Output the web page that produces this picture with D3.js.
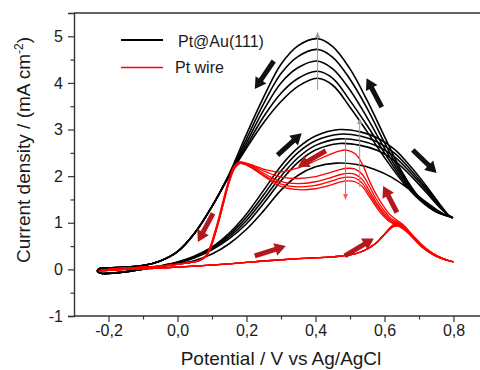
<!DOCTYPE html>
<html>
<head>
<meta charset="utf-8">
<script src="https://cdn.jsdelivr.net/npm/d3@7"></script>
<style>
  body { margin: 0; background: #fff; }
  svg { display: block; }
  text { font-family: "Liberation Sans", Arial, sans-serif; fill: #1a1a1a; }
</style>
</head>
<body>
<svg id="chart" width="480" height="370"></svg>
<script>
// ---- axis settings ----
const xTicks = [-0.2, 0.0, 0.2, 0.4, 0.6, 0.8];
const xMinorTicks = [-0.1, 0.1, 0.3, 0.5, 0.7];
const yTicks = [-1, 0, 1, 2, 3, 4, 5];
const yMinorTicks = [-0.5, 0.5, 1.5, 2.5, 3.5, 4.5];
const xTitle = "Potential / V vs Ag/AgCl";
const yTitle = "Current density / (mA cm";
const yTitleSup = "-2";

// ---- legend ----
const seriesNames = ["Pt@Au(111)", "Pt wire"];
const seriesColors = ["#000000", "#ff0000"];

// ---- Pt@Au(111): five consecutive cycles, [potential V, current mA cm-2] ----
const auCycle1 = [
  [-0.233,-0.04],[-0.222,-0.085],[-0.18,-0.075],[-0.13,-0.03],[-0.08,0.03],[-0.04,0.07],[0.0,0.11],[0.05,0.19],
  [0.1,0.33],[0.15,0.55],[0.2,0.86],[0.25,1.26],[0.3,1.7],[0.35,2.02],[0.4,2.2],[0.46,2.28],[0.52,2.25],
  [0.57,2.15],[0.62,1.98],[0.67,1.73],[0.72,1.45],[0.76,1.24],[0.785,1.14],[0.797,1.11],
  [0.79,1.13],[0.75,1.23],[0.7,1.5],[0.65,1.9],[0.6,2.4],[0.55,2.95],[0.5,3.48],[0.45,3.95],[0.405,4.1],
  [0.35,3.93],[0.3,3.6],[0.25,3.15],[0.2,2.6],[0.15,2.0],[0.1,1.35],[0.05,0.78],[0.0,0.38],[-0.05,0.18],
  [-0.1,0.08],[-0.15,0.05],[-0.2,0.03],[-0.228,0.01],[-0.233,-0.04]
];
const auCycle2 = [
  [-0.233,-0.04],[-0.222,-0.085],[-0.18,-0.075],[-0.13,-0.03],[-0.08,0.03],[-0.04,0.08],[0.0,0.13],[0.05,0.25],
  [0.1,0.42],[0.15,0.66],[0.2,0.98],[0.25,1.42],[0.3,1.9],[0.35,2.3],[0.4,2.56],[0.47,2.7],[0.53,2.66],
  [0.58,2.55],[0.63,2.33],[0.68,1.98],[0.72,1.66],[0.76,1.33],[0.785,1.16],[0.797,1.11],
  [0.79,1.13],[0.75,1.24],[0.7,1.52],[0.65,1.95],[0.6,2.5],[0.55,3.08],[0.5,3.62],[0.45,4.1],[0.405,4.25],
  [0.35,4.1],[0.3,3.78],[0.25,3.28],[0.2,2.65],[0.15,2.01],[0.1,1.35],[0.05,0.78],[0.0,0.38],[-0.05,0.18],
  [-0.1,0.08],[-0.15,0.05],[-0.2,0.03],[-0.228,0.01],[-0.233,-0.04]
];
const auCycle3 = [
  [-0.233,-0.04],[-0.222,-0.085],[-0.18,-0.075],[-0.13,-0.03],[-0.08,0.03],[-0.04,0.08],[0.0,0.14],[0.05,0.26],
  [0.1,0.44],[0.15,0.7],[0.2,1.05],[0.25,1.51],[0.3,2.0],[0.35,2.4],[0.4,2.66],[0.47,2.8],[0.53,2.76],
  [0.58,2.64],[0.63,2.41],[0.68,2.04],[0.72,1.71],[0.76,1.35],[0.785,1.16],[0.797,1.11],
  [0.79,1.13],[0.75,1.24],[0.7,1.53],[0.65,2.0],[0.6,2.6],[0.55,3.25],[0.5,3.85],[0.45,4.3],[0.405,4.47],
  [0.35,4.33],[0.3,4.0],[0.25,3.42],[0.2,2.72],[0.15,2.02],[0.1,1.35],[0.05,0.78],[0.0,0.38],[-0.05,0.18],
  [-0.1,0.08],[-0.15,0.05],[-0.2,0.03],[-0.228,0.01],[-0.233,-0.04]
];
const auCycle4 = [
  [-0.233,-0.04],[-0.222,-0.085],[-0.18,-0.075],[-0.13,-0.03],[-0.08,0.03],[-0.04,0.09],[0.0,0.15],[0.05,0.27],
  [0.1,0.46],[0.15,0.74],[0.2,1.12],[0.25,1.6],[0.3,2.11],[0.35,2.51],[0.4,2.76],[0.47,2.9],[0.53,2.86],
  [0.58,2.73],[0.63,2.49],[0.68,2.1],[0.72,1.75],[0.76,1.38],[0.785,1.16],[0.797,1.11],
  [0.79,1.13],[0.75,1.25],[0.7,1.54],[0.65,2.05],[0.6,2.72],[0.55,3.45],[0.5,4.08],[0.45,4.55],[0.405,4.72],
  [0.35,4.57],[0.3,4.2],[0.25,3.56],[0.2,2.8],[0.15,2.03],[0.1,1.35],[0.05,0.78],[0.0,0.38],[-0.05,0.18],
  [-0.1,0.08],[-0.15,0.05],[-0.2,0.03],[-0.228,0.01],[-0.233,-0.04]
];
const auCycle5 = [
  [-0.233,-0.04],[-0.222,-0.085],[-0.18,-0.075],[-0.13,-0.03],[-0.08,0.03],[-0.04,0.09],[0.0,0.16],[0.05,0.29],
  [0.1,0.48],[0.15,0.78],[0.2,1.19],[0.25,1.7],[0.3,2.22],[0.35,2.61],[0.4,2.86],[0.47,3.0],[0.53,2.95],
  [0.58,2.82],[0.63,2.57],[0.68,2.17],[0.72,1.8],[0.76,1.4],[0.785,1.17],[0.797,1.11],
  [0.79,1.13],[0.75,1.25],[0.7,1.55],[0.65,2.1],[0.6,2.85],[0.55,3.62],[0.5,4.3],[0.45,4.78],[0.405,4.95],
  [0.35,4.8],[0.3,4.4],[0.25,3.7],[0.2,2.9],[0.15,2.05],[0.1,1.35],[0.05,0.78],[0.0,0.38],[-0.05,0.18],
  [-0.1,0.08],[-0.15,0.05],[-0.2,0.03],[-0.228,0.01],[-0.233,-0.04]
];

// ---- Pt wire: five consecutive cycles ----
const ptCycle1 = [
  [-0.228,-0.03],[-0.2,-0.02],[-0.15,0.0],[-0.05,0.03],[0.05,0.07],[0.15,0.12],[0.25,0.18],[0.35,0.23],
  [0.45,0.27],[0.5,0.31],[0.54,0.4],[0.575,0.56],[0.605,0.8],[0.625,0.96],[0.638,1.02],[0.655,0.95],
  [0.68,0.73],[0.71,0.48],[0.745,0.3],[0.775,0.21],[0.8,0.16],
  [0.79,0.18],[0.77,0.23],[0.74,0.34],[0.71,0.52],[0.68,0.75],[0.655,0.95],[0.635,1.06],[0.615,1.18],
  [0.595,1.38],[0.575,1.62],[0.555,1.92],[0.535,2.27],[0.515,2.48],[0.49,2.56],[0.465,2.53],[0.44,2.46],
  [0.4,2.33],[0.35,2.18],[0.3,2.09],[0.26,2.13],[0.22,2.23],[0.195,2.29],[0.178,2.3],[0.163,2.2],
  [0.148,1.9],[0.133,1.5],[0.12,1.12],[0.107,0.78],[0.095,0.5],[0.082,0.3],[0.062,0.19],[0.02,0.13],
  [-0.05,0.07],[-0.15,0.03],[-0.2,0.0],[-0.228,-0.03]
];
const ptCycle2 = [
  [-0.228,-0.03],[-0.2,-0.02],[-0.15,0.0],[-0.05,0.03],[0.05,0.07],[0.15,0.12],[0.25,0.18],[0.35,0.23],
  [0.45,0.27],[0.5,0.31],[0.54,0.4],[0.575,0.56],[0.605,0.8],[0.625,0.95],[0.638,0.99],[0.655,0.93],
  [0.68,0.72],[0.71,0.48],[0.745,0.3],[0.775,0.21],[0.8,0.16],
  [0.79,0.18],[0.77,0.23],[0.74,0.34],[0.71,0.51],[0.68,0.73],[0.655,0.92],[0.635,1.02],[0.615,1.12],
  [0.595,1.3],[0.575,1.52],[0.555,1.8],[0.535,2.04],[0.515,2.15],[0.495,2.17],[0.47,2.14],[0.44,2.07],
  [0.4,1.99],[0.35,1.95],[0.3,1.98],[0.26,2.08],[0.22,2.21],[0.195,2.28],[0.18,2.3],[0.165,2.2],
  [0.15,1.9],[0.135,1.5],[0.122,1.12],[0.109,0.78],[0.097,0.5],[0.084,0.3],[0.064,0.19],[0.02,0.13],
  [-0.05,0.07],[-0.15,0.03],[-0.2,0.0],[-0.228,-0.03]
];
const ptCycle3 = [
  [-0.228,-0.03],[-0.2,-0.02],[-0.15,0.0],[-0.05,0.03],[0.05,0.07],[0.15,0.12],[0.25,0.18],[0.35,0.23],
  [0.45,0.27],[0.5,0.31],[0.54,0.4],[0.575,0.56],[0.605,0.8],[0.625,0.94],[0.638,0.97],[0.655,0.91],
  [0.68,0.71],[0.71,0.48],[0.745,0.3],[0.775,0.21],[0.8,0.16],
  [0.79,0.18],[0.77,0.23],[0.74,0.34],[0.71,0.5],[0.68,0.72],[0.655,0.9],[0.635,0.99],[0.615,1.08],
  [0.595,1.24],[0.575,1.45],[0.555,1.7],[0.535,1.93],[0.515,2.04],[0.495,2.06],[0.47,2.03],[0.44,1.96],
  [0.4,1.88],[0.35,1.84],[0.3,1.88],[0.26,2.02],[0.22,2.19],[0.195,2.27],[0.18,2.29],[0.165,2.19],
  [0.15,1.9],[0.135,1.5],[0.122,1.12],[0.109,0.78],[0.097,0.5],[0.084,0.3],[0.064,0.19],[0.02,0.13],
  [-0.05,0.07],[-0.15,0.03],[-0.2,0.0],[-0.228,-0.03]
];
const ptCycle4 = [
  [-0.228,-0.03],[-0.2,-0.02],[-0.15,0.0],[-0.05,0.03],[0.05,0.07],[0.15,0.12],[0.25,0.18],[0.35,0.23],
  [0.45,0.27],[0.5,0.31],[0.54,0.4],[0.575,0.56],[0.605,0.79],[0.625,0.93],[0.638,0.95],[0.655,0.9],
  [0.68,0.7],[0.71,0.47],[0.745,0.3],[0.775,0.21],[0.8,0.16],
  [0.79,0.18],[0.77,0.23],[0.74,0.34],[0.71,0.5],[0.68,0.71],[0.655,0.88],[0.635,0.97],[0.615,1.05],
  [0.595,1.2],[0.575,1.4],[0.555,1.63],[0.535,1.85],[0.515,1.96],[0.495,1.98],[0.47,1.95],[0.44,1.88],
  [0.4,1.8],[0.35,1.77],[0.3,1.83],[0.26,1.98],[0.22,2.17],[0.195,2.26],[0.18,2.28],[0.166,2.18],
  [0.151,1.9],[0.136,1.5],[0.123,1.12],[0.11,0.78],[0.098,0.5],[0.085,0.3],[0.065,0.19],[0.02,0.13],
  [-0.05,0.07],[-0.15,0.03],[-0.2,0.0],[-0.228,-0.03]
];
const ptCycle5 = [
  [-0.228,-0.03],[-0.2,-0.02],[-0.15,0.0],[-0.05,0.03],[0.05,0.07],[0.15,0.12],[0.25,0.18],[0.35,0.23],
  [0.45,0.27],[0.5,0.31],[0.54,0.4],[0.575,0.56],[0.605,0.78],[0.625,0.91],[0.638,0.93],[0.655,0.88],
  [0.68,0.69],[0.71,0.47],[0.745,0.3],[0.775,0.21],[0.8,0.16],
  [0.79,0.18],[0.77,0.23],[0.74,0.34],[0.71,0.5],[0.68,0.7],[0.655,0.86],[0.635,0.95],[0.615,1.02],
  [0.595,1.16],[0.575,1.35],[0.555,1.57],[0.535,1.78],[0.515,1.88],[0.495,1.9],[0.47,1.87],[0.44,1.8],
  [0.4,1.73],[0.35,1.71],[0.3,1.78],[0.26,1.95],[0.22,2.15],[0.195,2.25],[0.18,2.27],[0.166,2.17],
  [0.151,1.9],[0.136,1.5],[0.123,1.12],[0.11,0.78],[0.098,0.5],[0.085,0.3],[0.065,0.19],[0.02,0.13],
  [-0.05,0.07],[-0.15,0.03],[-0.2,0.0],[-0.228,-0.03]
];

const auCycles = [auCycle1, auCycle2, auCycle3, auCycle4, auCycle5];
const ptCycles = [ptCycle1, ptCycle2, ptCycle3, ptCycle4, ptCycle5];

// ---- scan-direction arrows: [V from, I from, V to, I to] ----
const blackArrows = [
  [0.279, 4.47, 0.224, 3.87],
  [0.592, 3.48, 0.548, 4.10],
  [0.290, 2.45, 0.360, 2.92],
  [0.682, 2.56, 0.751, 2.07]
];
const redArrows = [
  [0.430, 2.545, 0.349, 2.20],
  [0.103, 1.20, 0.059, 0.59],
  [0.224, 0.29, 0.314, 0.50],
  [0.485, 0.29, 0.569, 0.665],
  [0.636, 1.22, 0.596, 1.79]
];
// ---- cycle-trend markers: [V, I from, I to, colour] ----
const trendMarks = [
  [0.406, 3.85, 5.10, "#9a9a9a"],
  [0.528, 1.77, 3.25, "#9a9a9a"],
  [0.487, 2.82, 1.49, "#ff5a5a"]
];

// ---- layout ----
const svg = d3.select("#chart");
const x = d3.scaleLinear().domain([-0.3, 0.9]).range([74, 488]);
const y = d3.scaleLinear().domain([-1, 5.5]).range([316, 13]);
const fmt = d => d3.format(".1f")(d).replace("\u2212", "-").replace(".", ",");

// top edge of the frame
const frame = svg.append("g").attr("stroke", "#333").attr("stroke-width", 1.4).attr("fill", "none");
frame.append("line").attr("x1", x.range()[0]).attr("x2", 480).attr("y1", y(5.5)).attr("y2", y(5.5));

// x axis
const xAxis = svg.append("g").attr("transform", `translate(0,${y(-1)})`)
  .call(d3.axisBottom(x).tickValues(xTicks).tickFormat(fmt).tickSize(6).tickPadding(3));
svg.append("g").attr("transform", `translate(0,${y(-1)})`)
  .call(d3.axisBottom(x).tickValues(xMinorTicks).tickFormat("").tickSize(3.5))
  .select(".domain").remove();

// y axis
const yAxis = svg.append("g").attr("transform", `translate(${x(-0.3)},0)`)
  .call(d3.axisLeft(y).tickValues(yTicks).tickFormat(d => d < 0 ? "-" + Math.abs(d) : String(d)).tickSize(6).tickPadding(5));
svg.append("g").attr("transform", `translate(${x(-0.3)},0)`)
  .call(d3.axisLeft(y).tickValues(yMinorTicks).tickFormat("").tickSize(3.5))
  .select(".domain").remove();

svg.selectAll(".domain").attr("stroke", "#333").attr("stroke-width", 1.4);
svg.selectAll(".tick line").attr("stroke", "#333").attr("stroke-width", 1.2);
svg.selectAll(".tick text").attr("font-size", 16).attr("font-family", "Liberation Sans, Arial, sans-serif").attr("fill", "#1a1a1a");
xAxis.select(".domain").attr("d", `M${x.range()[0]},0H480`);

// axis titles
svg.append("text").attr("x", 281).attr("y", 365).attr("text-anchor", "middle")
  .attr("font-size", 19).text(xTitle);
const yt = svg.append("text").attr("transform", "translate(30,150) rotate(-90)")
  .attr("text-anchor", "middle").attr("font-size", 19);
yt.append("tspan").text(yTitle);
yt.append("tspan").attr("dy", -7).attr("font-size", 12).text(yTitleSup);
yt.append("tspan").attr("dy", 7).text(")");

// voltammogram curves
const line = d3.line().x(d => x(d[0])).y(d => y(d[1])).curve(d3.curveCatmullRom.alpha(0.5));
const plot = svg.append("g");
plot.selectAll("path.au").data(auCycles).join("path").attr("class", "au")
  .attr("d", line).attr("fill", "none").attr("stroke", seriesColors[0]).attr("stroke-width", 1.6);
plot.selectAll("path.pt").data(ptCycles).join("path").attr("class", "pt")
  .attr("d", line).attr("fill", "none").attr("stroke", seriesColors[1]).attr("stroke-width", 1.3);

// trend markers (thin arrows)
trendMarks.forEach(([v, i0, i1, col]) => {
  const px = x(v), p0 = y(i0), p1 = y(i1), dir = p1 < p0 ? 1 : -1;
  plot.append("line").attr("x1", px).attr("x2", px).attr("y1", p0).attr("y2", p1 + dir * 5)
    .attr("stroke", col).attr("stroke-width", 1);
  plot.append("path").attr("d", `M${px},${p1}L${px - 2.5},${p1 + dir * 6}L${px + 2.5},${p1 + dir * 6}Z`)
    .attr("fill", col);
});

// block arrows showing the scan direction
function blockArrow(a, shaftW, headW, headL) {
  const x1 = x(a[0]), y1 = y(a[1]), x2 = x(a[2]), y2 = y(a[3]);
  const L = Math.hypot(x2 - x1, y2 - y1), ux = (x2 - x1) / L, uy = (y2 - y1) / L, nx = -uy, ny = ux;
  const bx = x2 - ux * headL, by = y2 - uy * headL;
  const pts = [
    [x1 + nx * shaftW / 2, y1 + ny * shaftW / 2], [bx + nx * shaftW / 2, by + ny * shaftW / 2],
    [bx + nx * headW / 2, by + ny * headW / 2], [x2, y2],
    [bx - nx * headW / 2, by - ny * headW / 2], [bx - nx * shaftW / 2, by - ny * shaftW / 2],
    [x1 - nx * shaftW / 2, y1 - ny * shaftW / 2]
  ];
  return "M" + pts.map(p => p.join(",")).join("L") + "Z";
}
plot.selectAll("path.barrow").data(blackArrows).join("path").attr("class", "barrow")
  .attr("d", d => blockArrow(d, 5, 13, 11)).attr("fill", "#111");
plot.selectAll("path.rarrow").data(redArrows).join("path").attr("class", "rarrow")
  .attr("d", d => blockArrow(d, 5, 13, 11)).attr("fill", "#b3191c");

// legend
const legend = svg.append("g");
[[40, 46.5], [67.5, 72.5]].forEach(([ly, ty], k) => {
  legend.append("line").attr("x1", 121).attr("x2", 163).attr("y1", ly).attr("y2", ly)
    .attr("stroke", seriesColors[k]).attr("stroke-width", k === 0 ? 2 : 1.6);
  legend.append("text").attr("x", k === 0 ? 178 : 175).attr("y", ty).attr("font-size", 16).text(seriesNames[k]);
});
</script>
</body>
</html>
